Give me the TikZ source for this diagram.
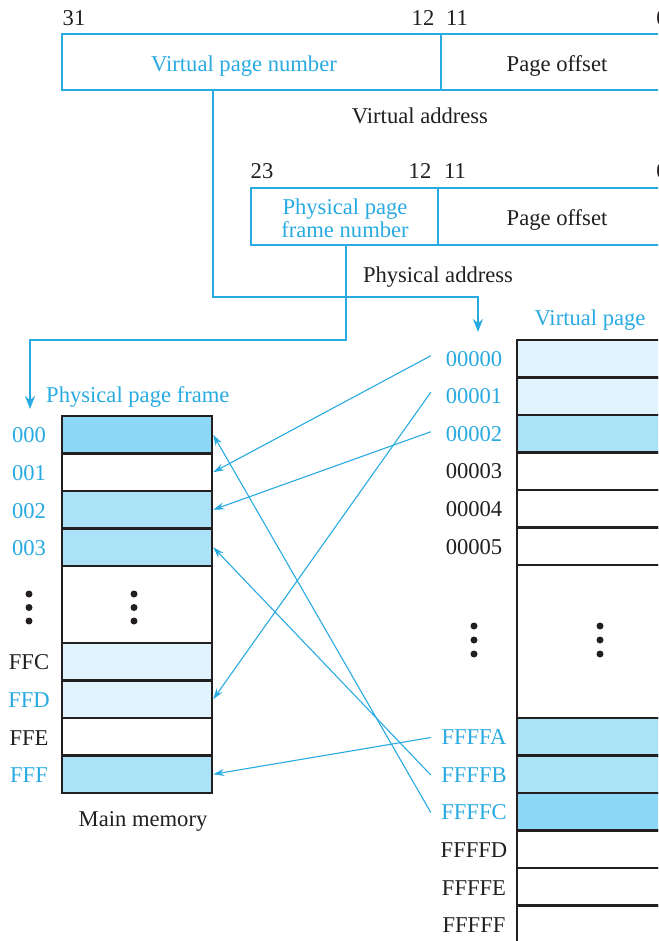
\documentclass[tikz,border=0pt]{standalone}
\usepackage{fontspec}
\setmainfont{Liberation Serif}
\usetikzlibrary{arrows.meta}
\definecolor{cb}{HTML}{29ABE2}
\definecolor{ink}{HTML}{231F20}
\definecolor{fmid}{HTML}{8DD7F7}
\definecolor{flight}{HTML}{ACE2F8}
\definecolor{fpale}{HTML}{E1F4FD}
\begin{document}
\begin{tikzpicture}[x=1pt,y=-1pt,
  font=\fontsize{22.6}{23}\selectfont,
  abox/.style={draw=cb, line width=2.8pt, minimum height=56pt, inner sep=0pt},
  mrow/.style={draw=ink, line width=2.4pt, minimum width=150pt, minimum height=37.5pt, inner sep=0pt},
  vrow/.style={draw=ink, line width=2.4pt, minimum width=146pt, minimum height=37.5pt, inner sep=0pt},
  lbl/.style={inner sep=0pt, text=ink},
  blbl/.style={inner sep=0pt, text=cb},
  vlbl/.style={inner sep=0pt, minimum width=86pt, text=ink},
  vblbl/.style={inner sep=0pt, minimum width=86pt, text=cb},
  feed/.style={cb, line width=2.8pt, -{Stealth[length=13pt,width=10pt]}},
  map/.style={cb, line width=1.1pt, -{Stealth[length=11pt,width=7pt]}},
  bdot/.style={circle, fill=ink, inner sep=0pt, minimum size=7pt}]
\clip (0,0) rectangle (658,941);
\fill[white] (0,0) rectangle (658,941);

% ---- virtual address
\node[abox, minimum width=379pt, text=cb] (vpn) at (251.5,62) {};
\node[blbl, text depth=0pt] (vpnt) at (244,64) {Virtual page number};
\node[abox, minimum width=232pt, text=ink] (vpo) at (557,62) {};
\node[lbl, text depth=0pt] (vpot) at (557,64) {Page offset};
\node[lbl] (n31) at (74,18) {31};
\node[lbl] (n12a) at (423,18) {12};
\node[lbl] (n11a) at (457,18) {11};
\node[lbl] (n0a) at (662,18) {0};
\node[lbl, text depth=0pt] (vaddr) at (420,116) {Virtual address};

% ---- physical address
\node[abox, minimum width=187pt, minimum height=57pt] (ppn) at (344.5,216.5) {};
\node[blbl, align=center] (ppnt) at (345,218) {Physical page\\frame number};
\node[abox, minimum width=238pt, minimum height=57pt] (ppo) at (557,216.5) {};
\node[lbl, text depth=0pt] (ppot) at (557,218) {Page offset};
\node[lbl] (n23) at (262,171) {23};
\node[lbl] (n12b) at (420,171) {12};
\node[lbl] (n11b) at (455,171) {11};
\node[lbl] (n0b) at (662,171) {0};
\node[lbl, text depth=0pt] (paddr) at (438,275) {Physical address};

% ---- main memory
\node[blbl, anchor=west, text depth=0pt] (ppf) at (46,395) {Physical page frame};
\node[mrow, fill=fmid] (m000) at (137,434.75) {};
\node[mrow, fill=white] (m001) at (137,472.25) {};
\node[mrow, fill=flight] (m002) at (137,509.75) {};
\node[mrow, fill=flight] (m003) at (137,547.25) {};
\node[mrow, fill=white, minimum height=77pt] (mdots) at (137,604.5) {};
\node[mrow, fill=fpale] (mFFC) at (137,661.75) {};
\node[mrow, fill=fpale] (mFFD) at (137,699.25) {};
\node[mrow, fill=white] (mFFE) at (137,736.75) {};
\node[mrow, fill=flight] (mFFF) at (137,774.25) {};
\node[lbl, text depth=0pt] (mm) at (143,819) {Main memory};

\node[blbl] (l000) at (29,435) {000};
\node[blbl] (l001) at (29,473) {001};
\node[blbl] (l002) at (29,511) {002};
\node[blbl] (l003) at (29,548.5) {003};
\node[lbl] (lFFC) at (29,662.5) {FFC};
\node[blbl] (lFFD) at (29,700) {FFD};
\node[lbl] (lFFE) at (29,738) {FFE};
\node[blbl] (lFFF) at (29,775.5) {FFF};

\foreach \yy [count=\i] in {594,607.5,621} {
  \node[bdot] (mdl\i) at (29,\yy) {};
  \node[bdot] (mdr\i) at (134,\yy) {};
}

% ---- virtual pages
\node[blbl, text depth=0pt] (vp) at (590,318) {Virtual page};
\node[vrow, fill=fpale] (v00000) at (590,358.75) {};
\node[vrow, fill=fpale] (v00001) at (590,396.25) {};
\node[vrow, fill=flight] (v00002) at (590,433.75) {};
\node[vrow, fill=white] (v00003) at (590,471.25) {};
\node[vrow, fill=white] (v00004) at (590,508.75) {};
\node[vrow, fill=white] (v00005) at (590,546.25) {};
\node[vrow, fill=white, minimum height=153pt] (vdots) at (590,641.5) {};
\node[vrow, fill=flight] (vFFFFA) at (590,736.75) {};
\node[vrow, fill=flight] (vFFFFB) at (590,774.25) {};
\node[vrow, fill=fmid] (vFFFFC) at (590,811.75) {};
\node[vrow, fill=white] (vFFFFD) at (590,849.25) {};
\node[vrow, fill=white] (vFFFFE) at (590,886.75) {};
\node[vrow, fill=white] (vFFFFF) at (590,924.25) {};

\node[vblbl] (l00000) at (474,358.75) {00000};
\node[vblbl] (l00001) at (474,396.25) {00001};
\node[vblbl] (l00002) at (474,433.75) {00002};
\node[vlbl] (l00003) at (474,471.25) {00003};
\node[vlbl] (l00004) at (474,509.5) {00004};
\node[vlbl] (l00005) at (474,547.5) {00005};
\node[vblbl] (lFFFFA) at (474,737.5) {FFFFA};
\node[vblbl] (lFFFFB) at (474,775) {FFFFB};
\node[vblbl] (lFFFFC) at (474,812.5) {FFFFC};
\node[vlbl] (lFFFFD) at (474,850.5) {FFFFD};
\node[vlbl] (lFFFFE) at (474,888) {FFFFE};
\node[vlbl] (lFFFFF) at (474,925.5) {FFFFF};

\foreach \yy [count=\i] in {626,640,654} {
  \node[bdot] (vdl\i) at (474,\yy) {};
  \node[bdot] (vdr\i) at (600,\yy) {};
}

% ---- thick feed lines
\coordinate (b1) at (213,297);
\coordinate (b2) at (478,297);
\coordinate (t1) at (478,332);
\draw[feed] (vpn.south -| b1) -- (b1) -- (b2) -- (t1);
\coordinate (b3) at (346,340);
\coordinate (b4) at (30,340);
\coordinate (t2) at (30,409);
\draw[feed] (ppn.south -| b3) -- (b3) -- (b4) -- (t2);

% ---- mapping arrows
\draw[map] ([yshift=3pt]l00000.west) -- (m001.east);
\draw[map] ([yshift=4pt]l00001.west) -- (mFFD.east);
\draw[map] ([yshift=2pt]l00002.west) -- (m002.east);
\draw[map] (lFFFFA.west) -- (mFFF.east);
\draw[map] (lFFFFB.west) -- (m003.east);
\draw[map] (lFFFFC.west) -- (m000.east);
\end{tikzpicture}
\end{document}
